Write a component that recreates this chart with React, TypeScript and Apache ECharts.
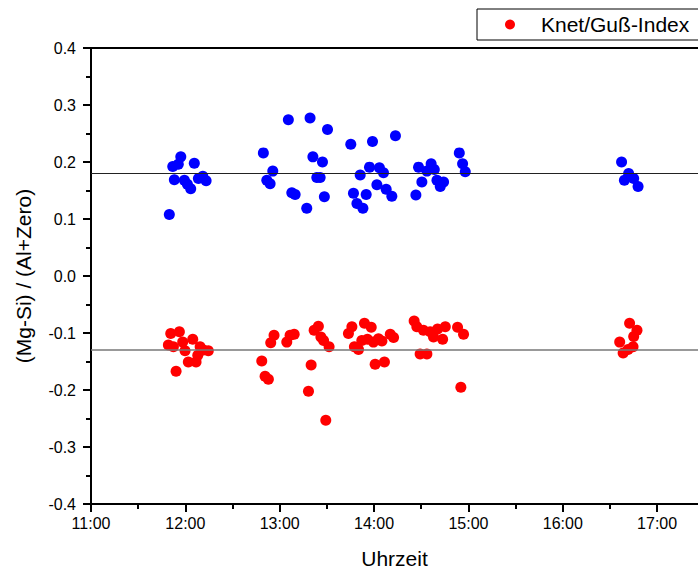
import React, { useEffect, useRef } from "react";
import * as echarts from "echarts";

// times in minutes since midnight
const blueTimes = [709.8, 712, 715.5, 717.1, 725.7, 713, 719.4, 721.3, 723.4, 728.3, 731.1, 733.2,
  769.6, 775.6, 771.8, 773.9, 785.5, 787.7, 789.8, 799.3, 797.2, 810.4, 801.1, 807.2, 803.6, 805.7, 808.4,
  825.2, 839, 853.6, 837.1, 843.4, 846, 831.2, 841.8, 847.7, 851.3, 826.9, 835, 829.1, 832.9,
  868.3, 876.3, 873.6, 878.3, 870.4, 880, 884.2, 882.1, 866.6, 894.2, 896.3, 898,
  997.4, 1001.9, 999.2, 1005.1, 1007.9];
const blueValues = [0.108, 0.192, 0.196, 0.209, 0.198, 0.169, 0.168, 0.161, 0.153, 0.171, 0.175, 0.167,
  0.216, 0.184, 0.168, 0.162, 0.274, 0.146, 0.143, 0.277, 0.119, 0.257, 0.209, 0.2, 0.173, 0.173, 0.139,
  0.231, 0.236, 0.246, 0.191, 0.19, 0.181, 0.177, 0.16, 0.152, 0.14, 0.145, 0.143, 0.127, 0.119,
  0.191, 0.197, 0.184, 0.187, 0.165, 0.168, 0.165, 0.157, 0.142, 0.216, 0.197, 0.183,
  0.2, 0.18, 0.168, 0.171, 0.157];

const redTimes = [710.7, 716.2, 709.2, 712.4, 718.3, 719.8, 724.7, 714.1, 721.9, 726.8, 729.4, 731.5, 734.6, 727.9,
  768.6, 770.7, 772.8, 774.3, 776.4, 784.5, 786.6, 789.2, 798.3, 800, 801.9, 804.6, 806.2, 807.9, 811.4, 809.3,
  823.7, 825.9, 833.9, 838.2, 827.5, 830.1, 832.2, 835.8, 839.6, 842.8, 845, 850.3, 852.4, 840.7, 846.6,
  865.5, 867.2, 871.4, 875.7, 877.8, 880.4, 883.6, 885.3, 869.3, 873.6, 893.1, 896.9, 895.2,
  1002.5, 1007.2, 1005.1, 996.2, 998.4, 1001.5, 1004.7];
const redValues = [-0.101, -0.098, -0.121, -0.124, -0.116, -0.131, -0.111, -0.167, -0.151, -0.151, -0.124, -0.13, -0.131, -0.139,
  -0.149, -0.176, -0.181, -0.117, -0.104, -0.116, -0.104, -0.102, -0.202, -0.156, -0.095, -0.088, -0.107, -0.113, -0.124, -0.253,
  -0.101, -0.089, -0.083, -0.09, -0.124, -0.129, -0.113, -0.111, -0.116, -0.11, -0.114, -0.102, -0.108, -0.155, -0.151,
  -0.079, -0.089, -0.095, -0.098, -0.107, -0.093, -0.111, -0.089, -0.137, -0.137, -0.09, -0.102, -0.195,
  -0.083, -0.095, -0.106, -0.116, -0.135, -0.129, -0.124];

const blueMean = 0.182;
const redMean = -0.126;

// x tick positions (minutes since midnight)
const hourTicks = [660, 720, 780, 840, 900, 960, 1020];
const halfHourTicks = [690, 750, 810, 870, 930, 990];
const xMin = 660;
const xMax = 1046; // visible range ends at about 17:26

const legendName = "Knet/Guß-Index";
const xTitle = "Uhrzeit";
const yTitle = "(Mg-Si) / (Al+Zero)";

const FONT = "'Liberation Sans', Arial, Helvetica, sans-serif";

const fmtTime = (v: number) => {
  if (Math.abs(v % 60) > 0.001) return "";
  const h = Math.round(v / 60);
  return `${h}:00`;
};

export default function App() {
  const ref = useRef<HTMLDivElement>(null);
  useEffect(() => {
    if (!ref.current) return;
    const chart = echarts.init(ref.current, undefined, { renderer: "svg" });
    const blueData = blueTimes.map((t, i) => [t, blueValues[i]]);
    const redData = redTimes.map((t, i) => [t, redValues[i]]);
    chart.setOption({
      animation: false,
      backgroundColor: "#fff",
      textStyle: { fontFamily: FONT },
      grid: {
        left: 91, top: 48, bottom: 66, right: 0,
        show: false, containLabel: false, outerBoundsMode: "none",
      },
      legend: {
        data: [legendName],
        left: 477, top: 9,
        padding: [5, 40, 5, 28],
        itemWidth: 52, itemHeight: 10,
        icon: "circle",
        borderColor: "#000", borderWidth: 1, borderRadius: 0,
        backgroundColor: "#fff",
        textStyle: { fontSize: 21, color: "#000", fontFamily: FONT },
      },
      xAxis: [
        {
          type: "value", min: xMin, max: xMax, position: "bottom",
          name: xTitle, nameLocation: "middle", nameGap: 44,
          nameTextStyle: { fontSize: 21, color: "#000", fontFamily: FONT },
          axisLine: { show: true, onZero: false, lineStyle: { color: "#000", width: 2 } },
          axisTick: { show: true, inside: false, length: 8, customValues: hourTicks, lineStyle: { color: "#000", width: 2 } },
          axisLabel: { formatter: fmtTime, customValues: hourTicks, fontSize: 16, color: "#000", margin: 11, fontFamily: FONT },
          splitLine: { show: false },
        },
        {
          type: "value", min: xMin, max: xMax, position: "bottom",
          axisLine: { show: false, onZero: false },
          axisTick: { show: true, inside: false, length: 5, customValues: halfHourTicks, lineStyle: { color: "#000", width: 2 } },
          axisLabel: { show: false },
          splitLine: { show: false },
        },
        {
          type: "value", min: xMin, max: xMax, position: "top",
          axisLine: { show: true, onZero: false, lineStyle: { color: "#000", width: 2 } },
          axisTick: { show: false },
          axisLabel: { show: false },
          splitLine: { show: false },
        },
      ],
      yAxis: {
        type: "value", min: -0.4, max: 0.4, interval: 0.1,
        name: yTitle, nameLocation: "middle", nameGap: 57, nameRotate: 90,
        nameTextStyle: { fontSize: 21, color: "#000", fontFamily: FONT },
        axisLine: { show: true, onZero: false, lineStyle: { color: "#000", width: 2 } },
        axisTick: { show: true, inside: false, length: 8, lineStyle: { color: "#000", width: 2 } },
        minorTick: { show: true, splitNumber: 2, length: 5, lineStyle: { color: "#000", width: 2 } },
        axisLabel: {
          formatter: (v: number) => v.toFixed(1),
          fontSize: 16, color: "#000", margin: 15, fontFamily: FONT,
        },
        splitLine: { show: false },
      },
      series: [
        {
          name: "blue", type: "scatter", data: blueData, symbol: "circle", symbolSize: 11,
          itemStyle: { color: "#0000ff", opacity: 1 },
          markLine: {
            silent: true, symbol: "none", label: { show: false },
            lineStyle: { color: "#222", width: 1, type: "solid" },
            data: [{ yAxis: blueMean }],
          },
        },
        {
          name: legendName, type: "scatter", data: redData, symbol: "circle", symbolSize: 11,
          itemStyle: { color: "#ff0000", opacity: 1 },
          markLine: {
            silent: true, symbol: "none", label: { show: false },
            lineStyle: { color: "#777", width: 1.5, type: "solid" },
            data: [{ yAxis: redMean }],
          },
        },
      ],
    });
    return () => chart.dispose();
  }, []);
  return <div ref={ref} style={{ width: 698, height: 570, position: "absolute", left: 0, top: 0 }} />;
}
